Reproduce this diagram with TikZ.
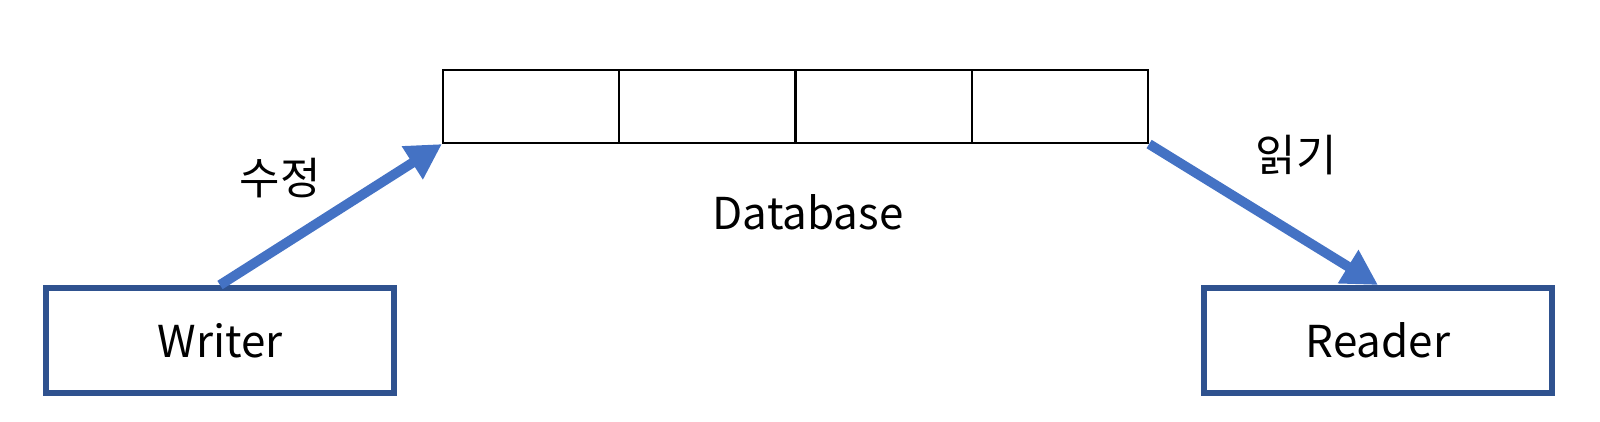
\documentclass[tikz,border=0pt]{standalone}
\usepackage{fontspec}
\setmainfont{Noto Sans CJK KR}
\usetikzlibrary{arrows.meta}
\definecolor{boxblue}{HTML}{2F528F}
\definecolor{arrowblue}{HTML}{4472C4}
\begin{document}
\begin{tikzpicture}[
	font=\fontsize{12.5}{15}\selectfont,
	cell/.style={rectangle,draw=black,line width=0.6pt,
	inner sep=0pt,minimum width=1.7625cm,minimum height=0.73cm},
	agent/.style={rectangle,draw=boxblue,line width=1.7pt,
	inner sep=0pt,minimum width=3.48cm,minimum height=1.05cm},
	flow/.style={-{Triangle[length=10pt,width=10.5pt]},draw=arrowblue,line width=2.8pt},
	]
	\useasboundingbox (0,0) rectangle (16,4.22);
	\node[cell] (c1) at (5.311,3.155) {};
	\node[cell] (c2) at (7.074,3.155) {};
	\node[cell] (c3) at (8.836,3.155) {};
	\node[cell] (c4) at (10.599,3.155) {};
	\node (db) at (8.08,2.10) {Database};
	\node[agent] (w) at (2.20,0.815) {Writer};
	\node[agent] (r) at (13.78,0.815) {Reader};
	\draw[flow] (w.north) -- (c1.south west);
	\draw[flow] (c4.south east) -- (r.north);
	\node (edit) at (2.80,2.44) {수정};
	\node (read) at (12.96,2.67) {읽기};
\end{tikzpicture}
\end{document}
